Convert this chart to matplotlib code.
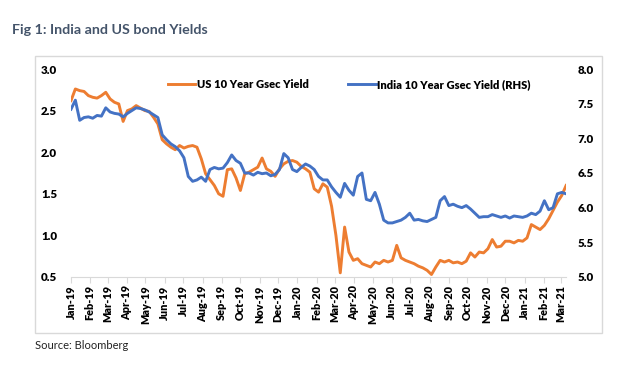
import matplotlib
matplotlib.use("Agg")
import matplotlib.pyplot as plt
import matplotlib.dates as mdates
import pandas as pd
from matplotlib.patches import Rectangle

plt.rcParams['font.family'] = ['Lato', 'DejaVu Sans']

# weekly observations, starting Tue 1 Jan 2019
start_date = "2019-01-01"

us_yield = [
    2.62, 2.76, 2.74, 2.73, 2.68, 2.66, 2.65, 2.68, 2.72, 2.64,
    2.60, 2.58, 2.37, 2.50, 2.52, 2.56, 2.53, 2.50, 2.49, 2.42,
    2.34, 2.15, 2.10, 2.06, 2.03, 2.08, 2.05, 2.07, 2.08, 2.06,
    1.92, 1.74, 1.67, 1.60, 1.50, 1.47, 1.79, 1.80, 1.69, 1.54,
    1.74, 1.76, 1.79, 1.82, 1.93, 1.80, 1.77, 1.71, 1.80, 1.86,
    1.89, 1.90, 1.88, 1.83, 1.80, 1.76, 1.56, 1.52, 1.62, 1.58,
    1.35, 1.00, 0.55, 1.10, 0.80, 0.70, 0.72, 0.66, 0.64, 0.62,
    0.68, 0.66, 0.70, 0.68, 0.70, 0.88, 0.73, 0.70, 0.68, 0.66,
    0.63, 0.61, 0.58, 0.53, 0.62, 0.70, 0.68, 0.70, 0.67, 0.68,
    0.66, 0.69, 0.79, 0.74, 0.80, 0.79, 0.84, 0.95, 0.86, 0.87,
    0.93, 0.93, 0.91, 0.94, 0.93, 0.97, 1.13, 1.10, 1.07, 1.12,
    1.20, 1.30, 1.40, 1.48, 1.60,
]

india_yield = [
    7.42, 7.55, 7.26, 7.30, 7.31, 7.29, 7.33, 7.32, 7.44, 7.38,
    7.36, 7.35, 7.31, 7.36, 7.40, 7.44, 7.43, 7.41, 7.38, 7.34,
    7.30, 7.05, 6.98, 6.92, 6.88, 6.82, 6.72, 6.45, 6.38, 6.40,
    6.44, 6.38, 6.55, 6.58, 6.56, 6.57, 6.65, 6.76, 6.68, 6.64,
    6.50, 6.50, 6.47, 6.51, 6.49, 6.50, 6.46, 6.48, 6.55, 6.78,
    6.72, 6.55, 6.52, 6.58, 6.63, 6.60, 6.55, 6.45, 6.40, 6.40,
    6.30, 6.22, 6.15, 6.35, 6.25, 6.18, 6.45, 6.50, 6.12, 6.10,
    6.22, 6.05, 5.82, 5.78, 5.78, 5.80, 5.82, 5.86, 5.92, 5.82,
    5.83, 5.81, 5.80, 5.83, 5.86, 6.10, 6.16, 6.03, 6.05, 6.02,
    6.00, 6.03, 5.98, 5.92, 5.86, 5.87, 5.87, 5.90, 5.88, 5.86,
    5.88, 5.85, 5.88, 5.87, 5.86, 5.88, 5.92, 5.90, 5.95, 6.10,
    5.97, 6.00, 6.20, 6.22, 6.20,
]

dates = pd.date_range(start_date, periods=len(us_yield), freq="7D")

fig = plt.figure(figsize=(6.29, 3.68), dpi=100)

# grey chart frame
fig.patches.append(Rectangle((0.0556, 0.0951), 0.9014, 0.7527, transform=fig.transFigure,
                             fill=False, edgecolor="#D9D9D9", linewidth=1))

fig.text(0.019, 0.918, "Fig 1: India and US bond Yields", fontsize=10.3, fontweight="bold",
         color="#44546A", va="center")
fig.text(0.056, 0.062, "Source: Bloomberg", fontsize=8, color="#222222", va="center")

ax = fig.add_axes([0.1129, 0.2473, 0.7871, 0.5652])
ax2 = ax.twinx()

l1, = ax.plot(dates, us_yield, color="#ED7D31", lw=2.1, label="US 10 Year Gsec Yield")
l2, = ax2.plot(dates, india_yield, color="#4472C4", lw=2.1, label="India 10 Year Gsec Yield (RHS)")

ax.set_ylim(0.5, 3.0)
ax2.set_ylim(5.0, 8.0)
ax.set_yticks([0.5, 1.0, 1.5, 2.0, 2.5, 3.0])
ax2.set_yticks([5.0, 5.5, 6.0, 6.5, 7.0, 7.5, 8.0])
ax.yaxis.set_major_formatter(plt.FormatStrFormatter("%.1f"))
ax2.yaxis.set_major_formatter(plt.FormatStrFormatter("%.1f"))

ax.set_xlim(pd.Timestamp("2019-01-01"), pd.Timestamp("2021-03-09"))
ax.xaxis.set_major_locator(mdates.MonthLocator())
ax.xaxis.set_major_formatter(mdates.DateFormatter("%b-%y"))

for a in (ax, ax2):
    for s in ("top", "left", "right"):
        a.spines[s].set_visible(False)
    a.spines["bottom"].set_color("#D9D9D9")
    for lab in a.get_yticklabels():
        lab.set_fontweight("heavy")
ax2.spines["bottom"].set_visible(False)
ax.tick_params(axis="y", length=0, labelsize=8.3, pad=10)
ax2.tick_params(axis="y", length=0, labelsize=8.3, pad=8)

ax.tick_params(axis="x", direction="out", length=4, color="#D9D9D9", labelsize=7.8,
               labelrotation=90, pad=2)
for lab in ax.get_xticklabels():
    lab.set_fontweight("heavy")

leg = ax.legend(handles=[l1, l2], loc="upper center", bbox_to_anchor=(0.562, 1.0), ncol=2,
                frameon=False, handlelength=2.5, handletextpad=0.1,
                columnspacing=3.6, prop={"weight": "heavy", "size": 8})

fig.savefig("out.png", dpi=100)
